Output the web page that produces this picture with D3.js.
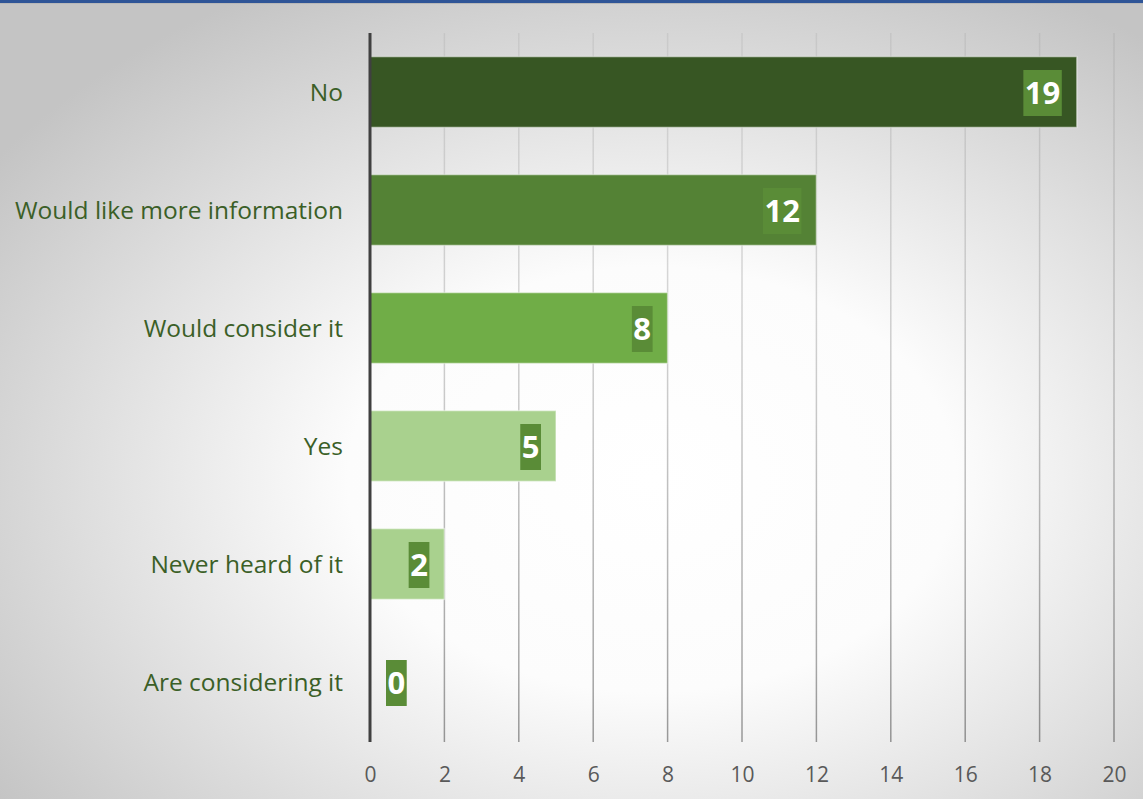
<!DOCTYPE html>
<html>
<head>
<meta charset="utf-8">
<script src="https://cdn.jsdelivr.net/npm/d3@7"></script>
<style>
  html, body { margin: 0; padding: 0; background: #fff; }
  svg { display: block; }
</style>
</head>
<body>
<svg id="chart" width="1143" height="799"></svg>
<script>
// Survey answers, top to bottom
const categories = ["No", "Would like more information", "Would consider it", "Yes", "Never heard of it", "Are considering it"];
const counts = [19, 12, 8, 5, 2, 0];
const barColors = ["#375623", "#548235", "#70ad47", "#a9d18e", "#a9d18e", "#a9d18e"];
const tickValues = [0, 2, 4, 6, 8, 10, 12, 14, 16, 18, 20];

const W = 1143, H = 799;
const plot = { left: 370, right: 1114, top: 33, bottom: 742 };

const svg = d3.select("#chart");
const defs = svg.append("defs");

// soft radial backdrop
const bg = defs.append("radialGradient")
  .attr("id", "bgGrad")
  .attr("cx", 0.57).attr("cy", 0.6).attr("r", 0.7)
  .attr("fx", 0.57).attr("fy", 0.6);
bg.append("stop").attr("offset", 0).attr("stop-color", "#ffffff");
bg.append("stop").attr("offset", 0.38).attr("stop-color", "#fcfcfc");
bg.append("stop").attr("offset", 1).attr("stop-color", "#c4c4c4");

// gridlines fade out towards the top
const gg = defs.append("linearGradient")
  .attr("id", "gridGrad")
  .attr("gradientUnits", "userSpaceOnUse")
  .attr("x1", 0).attr("y1", plot.top).attr("x2", 0).attr("y2", plot.bottom);
gg.append("stop").attr("offset", 0).attr("stop-color", "#000").attr("stop-opacity", 0.06);
gg.append("stop").attr("offset", 0.5).attr("stop-color", "#000").attr("stop-opacity", 0.2);
gg.append("stop").attr("offset", 1).attr("stop-color", "#000").attr("stop-opacity", 0.38);

svg.append("rect").attr("width", W).attr("height", H).attr("fill", "url(#bgGrad)");
svg.append("rect").attr("width", W).attr("height", 3).attr("fill", "#2f5597");
svg.append("rect").attr("y", 3).attr("width", W).attr("height", 1).attr("fill", "#b8b8b8");

const x = d3.scaleLinear().domain([0, 20]).range([plot.left, plot.right]);
const y = d3.scaleBand().domain(categories).range([plot.top, plot.bottom - 1])
  .paddingInner(0.4).paddingOuter(0.2);

// vertical gridlines
svg.append("g").selectAll("line")
  .data(tickValues.filter(d => d > 0))
  .join("line")
  .attr("x1", d => x(d)).attr("x2", d => x(d))
  .attr("y1", plot.top).attr("y2", plot.bottom)
  .attr("stroke", "url(#gridGrad)")
  .attr("stroke-width", 1.5);

// x axis tick labels
const xAxis = d3.axisBottom(x).tickValues(tickValues).tickSize(0).tickPadding(0);
const gx = svg.append("g")
  .attr("transform", `translate(0,${plot.bottom})`)
  .call(xAxis);
gx.select(".domain").remove();
gx.selectAll("text")
  .attr("y", 40).attr("dy", null)
  .attr("font-family", "'Open Sans', sans-serif")
  .attr("font-size", 21)
  .attr("fill", "#595959");

// category labels
const yAxis = d3.axisLeft(y).tickSize(0).tickPadding(0);
const gy = svg.append("g")
  .attr("transform", `translate(343,0)`)
  .call(yAxis);
gy.select(".domain").remove();
gy.selectAll("text")
  .attr("x", 0).attr("dy", "0.36em")
  .attr("font-family", "'Open Sans', sans-serif")
  .attr("font-size", 24.5)
  .attr("fill", "#3b5f27");

// bars
const data = categories.map((c, i) => ({ cat: c, value: counts[i], color: barColors[i] }));
svg.append("g").selectAll("rect")
  .data(data.filter(d => d.value > 0))
  .join("rect")
  .attr("x", x(0))
  .attr("y", d => y(d.cat))
  .attr("width", d => x(d.value) - x(0))
  .attr("height", y.bandwidth())
  .attr("fill", d => d.color)
  .attr("stroke", "rgba(255,255,255,0.45)")
  .attr("stroke-width", 1.5);

// axis line
svg.append("line")
  .attr("x1", x(0)).attr("x2", x(0))
  .attr("y1", plot.top).attr("y2", plot.bottom)
  .attr("stroke", "#404040").attr("stroke-width", 3);

// value labels on shaded boxes
const lg = svg.append("g");
data.forEach(d => {
  const cy = y(d.cat) + y.bandwidth() / 2 + 1;
  const g = lg.append("g");
  const box = g.append("rect").attr("fill", "#5a8c37");
  const t = g.append("text")
    .text(d.value)
    .attr("font-family", "'Open Sans', sans-serif")
    .attr("font-weight", 700)
    .attr("font-size", 31)
    .attr("fill", "#ffffff")
    .attr("text-anchor", "middle")
    .attr("y", cy + 11);
  const tw = t.node().getComputedTextLength();
  const bw = tw + 3;
  let right = x(d.value) - 15;
  let left = right - bw;
  if (left < x(0) + 16) left = x(0) + 16;
  t.attr("x", left + bw / 2);
  box.attr("x", left).attr("y", cy - 23).attr("width", bw).attr("height", 46);
});
</script>
</body>
</html>
